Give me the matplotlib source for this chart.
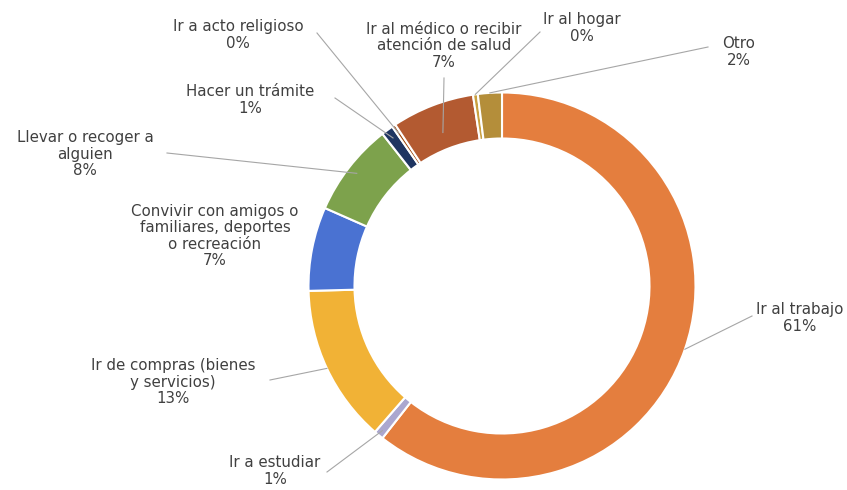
import numpy as np
import matplotlib
matplotlib.use("Agg")
import matplotlib.pyplot as plt

# ---- data ----
categories = [
    "Ir al trabajo",
    "Ir a estudiar",
    "Ir de compras (bienes\ny servicios)",
    "Convivir con amigos o\nfamiliares, deportes\no recreación",
    "Llevar o recoger a\nalguien",
    "Hacer un trámite",
    "Ir a acto religioso",
    "Ir al médico o recibir\natención de salud",
    "Ir al hogar",
    "Otro",
]
values = [60.6, 0.8, 13.2, 7.0, 7.8, 1.0, 0.3, 6.9, 0.4, 2.0]
colors = ["#E47E3E", "#ABA7CF", "#F1B236", "#4A72D2", "#7DA24C",
          "#1F3561", "#9E480E", "#B35A31", "#C9A040", "#B48E3A"]

# ---- layout (pixel coords, y from top) ----
W, H = 847, 490
CX, CY = 502, 286
R_OUT, RING = 193.5, 46

label_pos = [(800, 318), (275, 471), (173, 382), (215, 236), (85, 154),
             (250, 100), (238, 35), (444, 46), (582, 28), (739, 52)]
leader_start = [(752, 316), (327, 472), (270, 380), None, (167, 153),
                (335, 98), (317, 33), (444, 78), (540, 32), (708, 47)]
leader_r = [1.0, 0.97, 1.0, None, 0.95, 0.95, 0.95, 0.85, 1.0, 1.0]


def P(x, y):
    return x, H - y


fig = plt.figure(figsize=(W / 100, H / 100), dpi=100)
ax = fig.add_axes([0, 0, 1, 1])

wedges, _ = ax.pie(values, colors=colors, startangle=90, counterclock=False,
                   radius=R_OUT, center=P(CX, CY),
                   wedgeprops=dict(width=RING, edgecolor="white", linewidth=1.5))
ax.set_xlim(0, W)
ax.set_ylim(0, H)
ax.set_aspect("equal")
ax.axis("off")

total = sum(values)
cum = 0.0
for i, (cat, v) in enumerate(zip(categories, values)):
    mid = (cum + v / 2) / total * 360.0  # clockwise from top
    cum += v
    txt = f"{cat}\n{round(v / total * 100):.0f}%"
    lx, ly = label_pos[i]
    ax.text(*P(lx, ly), txt, ha="center", va="center", fontsize=10.8,
            family=["DejaVu Sans"], color="#404040",
            linespacing=1.1)
    if leader_start[i] is not None:
        r = R_OUT * leader_r[i]
        ex = CX + r * np.sin(np.radians(mid))
        ey = CY - r * np.cos(np.radians(mid))
        sx, sy = leader_start[i]
        ax.plot([P(sx, sy)[0], P(ex, ey)[0]], [P(sx, sy)[1], P(ex, ey)[1]],
                color="#A6A6A6", linewidth=0.8, zorder=5)

fig.savefig("out.png", dpi=100)
